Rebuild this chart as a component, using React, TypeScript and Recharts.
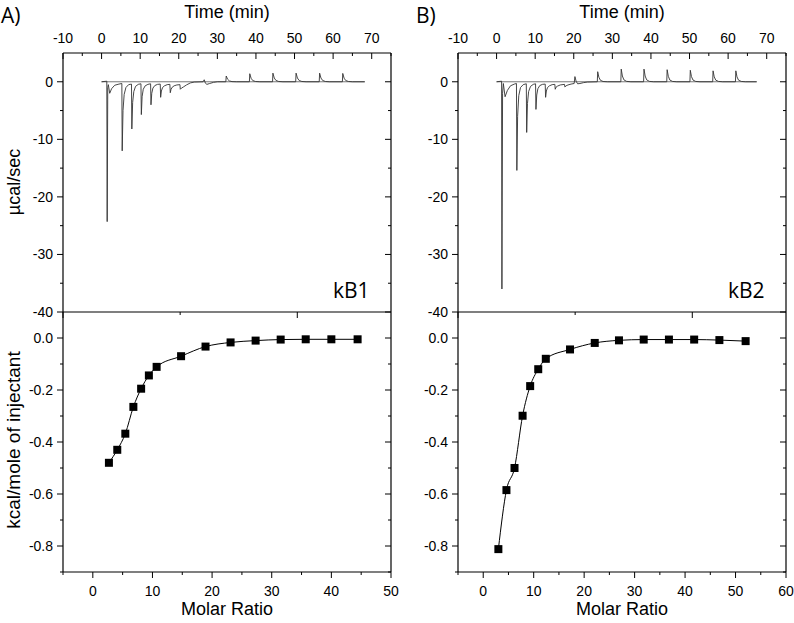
import { ComposedChart, Line, XAxis, YAxis } from 'recharts';

// raw thermograms, [time (min), power (µcal/sec)]
const traceA: [number, number][] = [
  [0, 0], [1.35, 0.1], [1.45, -24.3], [1.6, -1.0], [1.75, -0.5], [2.1, -2.0], [2.6, -1.2], [3.4, -0.6], [4.5, -0.4], [5.25, -0.3],
  [5.34, -12.0], [5.55, -5.0], [5.85, -2.2], [6.3, -1.0], [7.0, -0.5], [7.75, -0.4],
  [7.84, -8.2], [8.05, -3.6], [8.35, -1.7], [8.8, -0.8], [9.5, -0.45], [10.2, -0.35],
  [10.3, -5.7], [10.5, -2.6], [10.8, -1.3], [11.3, -0.7], [12.0, -0.45], [12.7, -0.35],
  [12.8, -4.0], [13.0, -2.0], [13.3, -1.1], [13.8, -0.65], [14.5, -0.45], [15.2, -0.4],
  [15.3, -2.7], [15.5, -1.6], [15.8, -1.0], [16.3, -0.7], [17.0, -0.5], [17.7, -0.45],
  [17.8, -1.9], [18.0, -1.3], [18.3, -0.95], [18.8, -0.7], [19.5, -0.55], [20.3, -0.5],
  [20.4, -1.3], [20.7, -1.1], [21.2, -0.9], [22.0, -0.55], [23.0, -0.2], [24.0, -0.05], [26.3, 0],
  [26.6, 0.35], [26.9, -0.25], [27.3, -0.45], [28.0, -0.3], [29.0, -0.1], [30.0, 0],
  [32.2, 0], [32.3, 1.0], [32.65, 0.45], [33.1, 0.15], [33.8, 0.03], [35.0, 0],
  [38.3, 0], [38.4, 1.4], [38.75, 0.6], [39.2, 0.2], [39.9, 0.05], [41.0, 0],
  [44.3, 0], [44.4, 1.5], [44.75, 0.65], [45.2, 0.22], [45.9, 0.05], [47.0, 0],
  [50.3, 0], [50.4, 1.5], [50.75, 0.65], [51.2, 0.22], [51.9, 0.05], [53.0, 0],
  [56.4, 0], [56.5, 1.5], [56.85, 0.65], [57.3, 0.22], [58.0, 0.05], [59.0, 0],
  [62.4, 0], [62.5, 1.45], [62.85, 0.62], [63.3, 0.2], [64.0, 0.05], [65.0, 0],
  [68.2, 0],
];

const traceB: [number, number][] = [
  [0, 0], [1.3, 0.1], [1.38, -36.0], [1.55, -2.0], [1.75, -0.3], [2.2, -2.6], [2.8, -1.5], [3.6, -0.7], [4.6, -0.4], [5.15, -0.3],
  [5.25, -15.4], [5.45, -6.0], [5.75, -2.4], [6.2, -1.0], [6.9, -0.5], [7.7, -0.35],
  [7.8, -8.8], [8.0, -3.8], [8.3, -1.7], [8.8, -0.8], [9.5, -0.45], [10.1, -0.35],
  [10.2, -4.8], [10.4, -2.3], [10.7, -1.2], [11.2, -0.65], [11.9, -0.45], [12.6, -0.4],
  [12.7, -2.7], [12.9, -1.6], [13.2, -1.0], [13.7, -0.7], [14.4, -0.5], [15.1, -0.45],
  [15.2, -1.3], [15.4, -0.95], [15.8, -0.75], [16.5, -0.55], [17.6, -0.45],
  [17.7, -0.9], [18.0, -0.7], [18.5, -0.55], [19.3, -0.4], [20.1, -0.3],
  [20.3, 0.9], [20.6, 0.1], [21.0, -0.35], [21.6, -0.3], [22.5, -0.15], [23.5, -0.05], [26.1, 0],
  [26.2, 1.75], [26.5, 0.8], [26.9, 0.26], [27.6, 0.05], [28.7, 0],
  [32.2, 0], [32.3, 2.2], [32.6, 1.0], [33.0, 0.33], [33.7, 0.07], [34.8, 0],
  [38.1, 0], [38.2, 2.2], [38.5, 1.0], [38.9, 0.33], [39.6, 0.07], [40.7, 0],
  [44.1, 0], [44.2, 2.1], [44.5, 0.95], [44.9, 0.3], [45.6, 0.06], [46.7, 0],
  [50.1, 0], [50.2, 2.0], [50.5, 0.9], [50.9, 0.3], [51.6, 0.06], [52.7, 0],
  [56.0, 0], [56.1, 1.9], [56.4, 0.85], [56.8, 0.28], [57.5, 0.06], [58.6, 0],
  [61.9, 0], [62.0, 1.9], [62.3, 0.85], [62.7, 0.28], [63.4, 0.06], [64.5, 0],
  [67.4, 0],
];

const baselineEndA = 68.2;
const baselineEndB = 67.4;

// integrated heats
const ratioA = [2.7, 4.1, 5.45, 6.8, 8.1, 9.4, 10.7, 14.8, 18.9, 23.1, 27.3, 31.5, 35.7, 40.0, 44.4];
const heatA = [-0.48, -0.43, -0.368, -0.265, -0.195, -0.144, -0.111, -0.07, -0.033, -0.017, -0.01, -0.006, -0.005, -0.005, -0.005];
const ratioB = [3.0, 4.6, 6.2, 7.8, 9.3, 10.9, 12.4, 17.2, 22.1, 26.9, 31.8, 36.8, 41.8, 46.8, 52.0];
const heatB = [-0.812, -0.585, -0.5, -0.299, -0.185, -0.12, -0.08, -0.044, -0.019, -0.009, -0.006, -0.006, -0.006, -0.008, -0.012];

// ticks (majors get labels)
const timeTicks = [-10, -5, 0, 5, 10, 15, 20, 25, 30, 35, 40, 45, 50, 55, 60, 65, 70, 75];
const powerTicks = [0, -5, -10, -15, -20, -25, -30, -35, -40];
const heatTicks = [0, -0.1, -0.2, -0.3, -0.4, -0.5, -0.6, -0.7, -0.8, -0.9];
const ratioTicksA = [-5, 0, 5, 10, 15, 20, 25, 30, 35, 40, 45, 50];
const ratioTicksB = [-5, 0, 5, 10, 15, 20, 25, 30, 35, 40, 45, 50, 55, 60];

const FONT = '"Liberation Sans", Arial, sans-serif';
const TICK_FS = 14;
const PLOT_W = 328;

type Side = 'top' | 'topIn' | 'bottom' | 'left' | 'right';

function tickFor(side: Side, step: number, digits: number) {
  return (props: any) => {
    const { x, y, payload } = props;
    const v: number = payload.value;
    const major = Math.abs(v / step - Math.round(v / step)) < 1e-6;
    const len = major ? 6 : 3;
    const label = v.toFixed(digits);
    let line = null;
    let text = null;
    if (side === 'top' || side === 'topIn') {
      line = <line x1={x} y1={y} x2={x} y2={y + len} stroke="#000" />;
      if (side === 'top' && major)
        text = <text x={x} y={y - 10} textAnchor="middle" fontSize={TICK_FS} fontFamily={FONT} fill="#000">{label}</text>;
    } else if (side === 'bottom') {
      line = <line x1={x} y1={y} x2={x} y2={y + len} stroke="#000" />;
      if (major)
        text = <text x={x} y={y + 24} textAnchor="middle" fontSize={TICK_FS} fontFamily={FONT} fill="#000">{label}</text>;
    } else if (side === 'left') {
      line = <line x1={x} y1={y} x2={x - len} y2={y} stroke="#000" />;
      if (major)
        text = <text x={x - 10} y={y + 5} textAnchor="end" fontSize={TICK_FS} fontFamily={FONT} fill="#000">{label}</text>;
    } else {
      line = <line x1={x} y1={y} x2={x - len} y2={y} stroke="#000" />;
    }
    return (
      <g>
        {line}
        {text}
      </g>
    );
  };
}

const Square = (p: any) => (
  <rect key={p.index} x={p.cx - 4} y={p.cy - 4} width={8} height={8} fill="#000" />
);

// axes are 1px thick (recharts skips 0-sized axes), margins compensate
const axisLine = { stroke: '#000', strokeWidth: 1.2 };

function Thermogram({ trace, baseEnd, left, width }: { trace: [number, number][]; baseEnd: number; left: number; width: number }) {
  const data = trace.map(([t, p]) => ({ t, p }));
  const base = [{ t: 0, p: 0 }, { t: baseEnd, p: 0 }];
  return (
    <ComposedChart width={width} height={330} margin={{ top: 52, left: left - 1, right: width - left - PLOT_W - 1, bottom: 18 }}>
      <XAxis xAxisId="x" orientation="top" type="number" dataKey="t" domain={[-10, 75]} allowDataOverflow
        ticks={timeTicks} interval={0} height={1} tickSize={0} tickMargin={0} tickLine={false}
        axisLine={axisLine} tick={tickFor('top', 10, 0)} />
      <YAxis yAxisId="y" type="number" domain={[-40, 5]} allowDataOverflow ticks={powerTicks} interval={0}
        width={1} tickSize={0} tickMargin={0} tickLine={false}
        axisLine={axisLine} tick={tickFor('left', 10, 0)} />
      <YAxis yAxisId="yr" orientation="right" type="number" domain={[-40, 5]} allowDataOverflow ticks={powerTicks} interval={0}
        width={1} tickSize={0} tickMargin={0} tickLine={false}
        axisLine={axisLine} tick={tickFor('right', 10, 0)} />
      <Line xAxisId="x" yAxisId="y" data={base} dataKey="p" type="linear" stroke="#777" strokeWidth={1}
        dot={false} activeDot={false} isAnimationActive={false} />
      <Line xAxisId="x" yAxisId="y" data={data} dataKey="p" type="linear" stroke="#333" strokeWidth={0.9}
        dot={false} activeDot={false} isAnimationActive={false} />
    </ComposedChart>
  );
}

function Isotherm({ ratio, heat, ticks, xMax, left, width }: { ratio: number[]; heat: number[]; ticks: number[]; xMax: number; left: number; width: number }) {
  const data = ratio.map((r, i) => ({ r, h: heat[i] }));
  return (
    <ComposedChart width={width} height={323} data={data}
      margin={{ top: 11, left: left - 1, right: width - left - PLOT_W - 1, bottom: 50 }}>
      <XAxis xAxisId="xb" orientation="bottom" type="number" dataKey="r" domain={[-5, xMax]} allowDataOverflow
        ticks={ticks} interval={0} height={1} tickSize={0} tickMargin={0} tickLine={false}
        axisLine={axisLine} tick={tickFor('bottom', 10, 0)} />
      <XAxis xAxisId="xt" orientation="top" type="number" domain={[-5, xMax]} allowDataOverflow
        ticks={ticks} interval={0} height={1} tickSize={0} tickMargin={0} tickLine={false}
        axisLine={axisLine} tick={tickFor('topIn', 10, 0)} />
      <YAxis yAxisId="y" type="number" domain={[-0.9, 0.1]} allowDataOverflow ticks={heatTicks} interval={0}
        width={1} tickSize={0} tickMargin={0} tickLine={false}
        axisLine={axisLine} tick={tickFor('left', 0.2, 1)} />
      <YAxis yAxisId="yr" orientation="right" type="number" domain={[-0.9, 0.1]} allowDataOverflow ticks={heatTicks} interval={0}
        width={1} tickSize={0} tickMargin={0} tickLine={false}
        axisLine={axisLine} tick={tickFor('right', 0.2, 1)} />
      <Line xAxisId="xb" yAxisId="y" dataKey="h" type="monotone" stroke="#000" strokeWidth={1}
        dot={Square} activeDot={false} isAnimationActive={false} />
    </ComposedChart>
  );
}

export default function App() {
  return (
    <div style={{ position: 'absolute', left: 0, top: 0, width: 794, height: 623, background: '#fff', overflow: 'hidden' }}>
      <div style={{ position: 'absolute', left: 0, top: 300 }}>
        <Isotherm ratio={ratioA} heat={heatA} ticks={ratioTicksA} xMax={50} left={63} width={400} />
      </div>
      <div style={{ position: 'absolute', left: 400, top: 300 }}>
        <Isotherm ratio={ratioB} heat={heatB} ticks={ratioTicksB} xMax={60} left={58} width={394} />
      </div>
      <div style={{ position: 'absolute', left: 0, top: 0 }}>
        <Thermogram trace={traceA} baseEnd={baselineEndA} left={63} width={400} />
      </div>
      <div style={{ position: 'absolute', left: 400, top: 0 }}>
        <Thermogram trace={traceB} baseEnd={baselineEndB} left={58} width={394} />
      </div>
      <svg width={794} height={623} style={{ position: 'absolute', left: 0, top: 0, pointerEvents: 'none' }}>
        <g fontFamily={FONT} fill="#000">
          <text x={227} y={18} fontSize={18} textAnchor="middle">Time (min)</text>
          <text x={622} y={18} fontSize={18} textAnchor="middle">Time (min)</text>
          <text x={227} y={615} fontSize={18} textAnchor="middle">Molar Ratio</text>
          <text x={622} y={615} fontSize={18} textAnchor="middle">Molar Ratio</text>
          <text transform="translate(20,182) rotate(-90)" fontSize={18} textAnchor="middle">µcal/sec</text>
          <text transform="translate(20,440) rotate(-90)" fontSize={19} textAnchor="middle">kcal/mole of injectant</text>
        </g>
        <g fontFamily='"Open Sans", "Noto Sans", sans-serif' fill="#000">
          <text x={1} y={23} fontSize={21}>A)</text>
          <text x={416} y={23} fontSize={21}>B)</text>
          <text x={333} y={298} fontSize={21}>kB1</text>
          <text x={728} y={298} fontSize={21}>kB2</text>
        </g>
      </svg>
    </div>
  );
}
